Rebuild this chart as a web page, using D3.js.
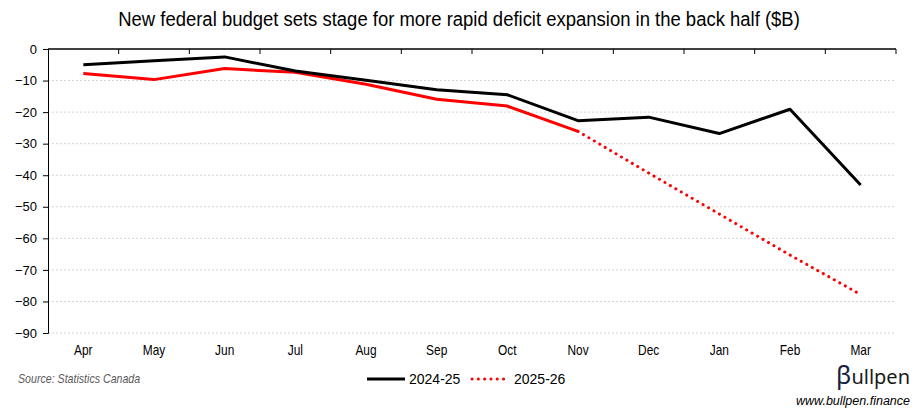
<!DOCTYPE html>
<html>
<head>
<meta charset="utf-8">
<script src="https://cdn.jsdelivr.net/npm/d3@7"></script>
<style>
  body { margin: 0; background: #fff; }
  svg { display: block; }
</style>
</head>
<body>
<div id="chart"></div>
<script>
// months of the fiscal year
var months = ['Apr', 'May', 'Jun', 'Jul', 'Aug', 'Sep', 'Oct', 'Nov', 'Dec', 'Jan', 'Feb', 'Mar'];
// cumulative balance, $B
var values2425 = [-5.0, -3.7, -2.5, -7.0, -9.9, -12.9, -14.5, -22.7, -21.6, -26.8, -19.1, -43.1];
var values2526 = [-7.8, -9.7, -6.2, -7.4, -11.2, -15.9, -18.1, -26.1, -39.3, -52.3, -65.3, -77.8];
// months of actuals for 2025-26, the rest is projection
var actualCount = 8;
var yTicks = [0, -10, -20, -30, -40, -50, -60, -70, -80, -90];
var seriesNames = ['2024-25', '2025-26'];

var width = 918, height = 419;
var margin = {top: 49, right: 22, bottom: 86, left: 48};
var sans = '"Liberation Sans", Arial, sans-serif';

var svg = d3.select('#chart').append('svg')
  .attr('width', width)
  .attr('height', height);

var x = d3.scaleBand()
  .domain(months)
  .range([margin.left, width - margin.right]);
var y = d3.scaleLinear()
  .domain([-90, 0])
  .range([height - margin.bottom, margin.top]);

// narrow text: no condensed font installed, so squeeze it horizontally
function narrowText(g, px, py, size, sx, anchor) {
  return g.append('text')
    .attr('transform', 'translate(' + px + ',' + py + ') scale(' + sx + ',1)')
    .attr('text-anchor', anchor || 'start')
    .style('font-family', sans)
    .style('font-size', size + 'px');
}

// title
narrowText(svg, width / 2, 26, 21, 0.88, 'middle')
  .text('New federal budget sets stage for more rapid deficit expansion in the back half ($B)');

// gridlines
svg.append('g').selectAll('line')
  .data(yTicks.filter(function (d) { return d !== 0; }))
  .enter().append('line')
  .attr('x1', margin.left)
  .attr('x2', width - margin.right)
  .attr('y1', function (d) { return y(d); })
  .attr('y2', function (d) { return y(d); })
  .attr('stroke', '#d4d4d4')
  .attr('stroke-width', 1)
  .attr('stroke-dasharray', '2,2');

// y axis
var yAxis = svg.append('g')
  .attr('transform', 'translate(' + margin.left + ',0)')
  .call(d3.axisLeft(y).tickValues(yTicks).tickSize(5).tickPadding(6).tickFormat(d3.format('d')));
yAxis.selectAll('path, line').attr('stroke', '#000');
yAxis.selectAll('text')
  .style('font-family', sans)
  .style('font-size', '13px')
  .attr('fill', '#000');

// category axis sits on the zero line, ticks between categories
var xAxisG = svg.append('g');
xAxisG.append('line')
  .attr('x1', margin.left)
  .attr('x2', width - margin.right)
  .attr('y1', y(0))
  .attr('y2', y(0))
  .attr('stroke', '#000')
  .attr('stroke-width', 1.3);
xAxisG.selectAll('line.tick')
  .data(months)
  .enter().append('line')
  .attr('class', 'tick')
  .attr('x1', function (d) { return x(d) + x.bandwidth(); })
  .attr('x2', function (d) { return x(d) + x.bandwidth(); })
  .attr('y1', y(0))
  .attr('y2', y(0) + 5)
  .attr('stroke', '#000');

// month labels below the plot
var labels = svg.append('g');
months.forEach(function (m) {
  narrowText(labels, x(m) + x.bandwidth() / 2, height - margin.bottom + 22, 14, 0.85, 'middle').text(m);
});

var line = d3.line()
  .x(function (d) { return x(d.m) + x.bandwidth() / 2; })
  .y(function (d) { return y(d.v); });

function pts(vals) {
  return vals.map(function (v, i) { return {m: months[i], v: v}; });
}

var red = pts(values2526);
// projected part, dotted
svg.append('path')
  .datum(red.slice(actualCount - 1))
  .attr('d', line)
  .attr('fill', 'none')
  .attr('stroke', '#ff0000')
  .attr('stroke-width', 3)
  .attr('stroke-linecap', 'round')
  .attr('stroke-dasharray', '0.1,6.2');
// actual part
svg.append('path')
  .datum(red.slice(0, actualCount))
  .attr('d', line)
  .attr('fill', 'none')
  .attr('stroke', '#ff0000')
  .attr('stroke-width', 3)
  .attr('stroke-linejoin', 'round');

svg.append('path')
  .datum(pts(values2425))
  .attr('d', line)
  .attr('fill', 'none')
  .attr('stroke', '#000')
  .attr('stroke-width', 3)
  .attr('stroke-linejoin', 'round');

// legend
var lg = svg.append('g').attr('transform', 'translate(367,379)');
lg.append('line')
  .attr('x1', 0).attr('x2', 38).attr('y1', 0).attr('y2', 0)
  .attr('stroke', '#000').attr('stroke-width', 3);
lg.append('text')
  .attr('x', 42).attr('y', 5)
  .style('font-family', sans).style('font-size', '14px')
  .text(seriesNames[0]);
lg.append('line')
  .attr('x1', 105).attr('x2', 141).attr('y1', 0).attr('y2', 0)
  .attr('stroke', '#ff0000').attr('stroke-width', 3)
  .attr('stroke-linecap', 'round')
  .attr('stroke-dasharray', '0.1,6.2');
lg.append('text')
  .attr('x', 147).attr('y', 5)
  .style('font-family', sans).style('font-size', '14px')
  .text(seriesNames[1]);

// source
narrowText(svg, 18, 383, 12.5, 0.85)
  .style('font-style', 'italic')
  .attr('fill', '#595959')
  .text('Source: Statistics Canada');

// brand
var brand = svg.append('text')
  .attr('x', 910).attr('y', 384)
  .attr('text-anchor', 'end')
  .style('font-family', '"Noto Sans", sans-serif')
  .style('font-size', '20px')
  .attr('fill', '#1a1a1a');
brand.append('tspan').style('font-size', '25px').attr('fill', '#14213d').text('β');
brand.append('tspan').text('ullpen');

svg.append('text')
  .attr('x', 910).attr('y', 405)
  .attr('text-anchor', 'end')
  .style('font-family', sans)
  .style('font-size', '12.5px')
  .style('font-style', 'italic')
  .text('www.bullpen.finance');
</script>
</body>
</html>
